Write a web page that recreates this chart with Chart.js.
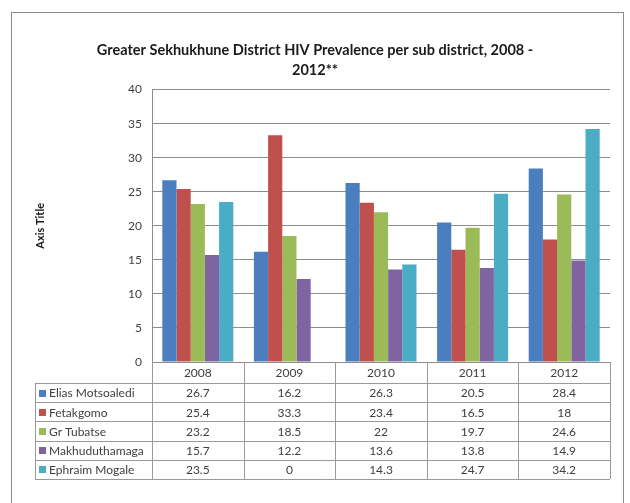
<!DOCTYPE html>
<html>
<head>
<meta charset="utf-8">
<script src="https://cdn.jsdelivr.net/npm/chart.js@4/dist/chart.umd.min.js"></script>
<style>
html, body { margin: 0; padding: 0; background: #fff; }
#wrap { position: relative; width: 630px; height: 503px; overflow: hidden; }
#frame { position: absolute; left: 11px; top: 12px; width: 611px; height: 520px; border: 1px solid #8c8c8c; }
#chart { position: absolute; left: 0; top: 0; }
</style>
</head>
<body>
<div id="wrap">
  <div id="frame"></div>
  <canvas id="chart" width="630" height="503"></canvas>
</div>
<script>
var years = ['2008', '2009', '2010', '2011', '2012'];
var seriesNames = ['Elias Motsoaledi', 'Fetakgomo', 'Gr Tubatse', 'Makhuduthamaga', 'Ephraim Mogale'];
var eliasMotsoaledi = [26.7, 16.2, 26.3, 20.5, 28.4];
var fetakgomo = [25.4, 33.3, 23.4, 16.5, 18];
var grTubatse = [23.2, 18.5, 22, 19.7, 24.6];
var makhuduthamaga = [15.7, 12.2, 13.6, 13.8, 14.9];
var ephraimMogale = [23.5, 0, 14.3, 24.7, 34.2];
var yTicks = [0, 5, 10, 15, 20, 25, 30, 35, 40];

var seriesValues = [eliasMotsoaledi, fetakgomo, grTubatse, makhuduthamaga, ephraimMogale];
var seriesColors = ['#4a7ebf', '#c0504d', '#9bbb59', '#8064a2', '#4bacc6'];
var fontFamily = 'Lato, "Open Sans", sans-serif';
var textColor = '#404040';

// data table under the plot, columns follow the x scale
var dataTablePlugin = {
    id: 'dataTable',
    afterDraw: function (chart) {
        var ctx = chart.ctx;
        var area = chart.chartArea;
        var xScale = chart.scales.x;
        var step = area.width / years.length;
        var headTop = area.bottom;
        var headH = 21;
        var rowH = 19.2;
        var legendLeft = 35;
        var tableBottom = headTop + headH + rowH * seriesNames.length;

        ctx.save();
        ctx.strokeStyle = '#9a9a9a';
        ctx.lineWidth = 1;
        ctx.beginPath();
        // horizontal lines
        for (var r = 0; r <= seriesNames.length; r++) {
            var y = Math.round(headTop + headH + r * rowH) + 0.5;
            ctx.moveTo(legendLeft, y);
            ctx.lineTo(area.right, y);
        }
        // vertical lines
        for (var c = 0; c <= years.length; c++) {
            var x = Math.round(area.left + c * step) + 0.5;
            ctx.moveTo(x, headTop);
            ctx.lineTo(x, tableBottom);
        }
        ctx.moveTo(legendLeft + 0.5, headTop + headH);
        ctx.lineTo(legendLeft + 0.5, tableBottom);
        ctx.stroke();

        ctx.font = '12px ' + fontFamily;
        ctx.fillStyle = textColor;
        ctx.textAlign = 'center';
        ctx.textBaseline = 'middle';
        years.forEach(function (yr, i) {
            ctx.fillText(yr, xScale.getPixelForValue(i), headTop + headH / 2 + 1);
        });
        seriesNames.forEach(function (name, s) {
            var cy = headTop + headH + s * rowH + rowH / 2 + 1;
            seriesValues[s].forEach(function (v, i) {
                ctx.textAlign = 'center';
                ctx.fillStyle = textColor;
                ctx.fillText(String(v), xScale.getPixelForValue(i), cy);
            });
            ctx.fillStyle = seriesColors[s];
            ctx.fillRect(legendLeft + 4, Math.round(cy - 4), 7, 7);
            ctx.fillStyle = textColor;
            ctx.textAlign = 'left';
            ctx.fillText(name, legendLeft + 14, cy);
        });
        ctx.restore();
    }
};

var chartCtx = document.getElementById('chart').getContext('2d');
var datasets = seriesNames.map(function (name, s) {
    return {
        label: name,
        data: seriesValues[s],
        backgroundColor: seriesColors[s],
        borderWidth: 0,
        categoryPercentage: 0.775,
        barPercentage: 1
    };
});

new Chart(chartCtx, {
    type: 'bar',
    data: { labels: years, datasets: datasets },
    options: {
        responsive: false,
        animation: false,
        layout: { padding: { left: 20, right: 20, top: 0, bottom: 141 } },
        plugins: {
            legend: { display: false },
            tooltip: { enabled: false },
            title: {
                display: true,
                text: ['Greater Sekhukhune District HIV Prevalence per sub district, 2008 -', '2012**'],
                color: '#1a1a1a',
                font: { family: fontFamily, size: 14.5, weight: 'bold', lineHeight: 1.4 },
                padding: { top: 40, bottom: 9 }
            }
        },
        scales: {
            x: {
                display: false
            },
            y: {
                min: 0,
                max: 40,
                afterBuildTicks: function (scale) {
                    scale.ticks = yTicks.map(function (v) { return { value: v }; });
                },
                afterFit: function (scale) { scale.width = 132; },
                grid: { color: '#8c8c8c', drawTicks: false },
                border: { color: '#8c8c8c' },
                ticks: { color: textColor, padding: 10, font: { family: fontFamily, size: 12 } },
                title: {
                    display: true,
                    text: 'Axis Title',
                    color: '#1a1a1a',
                    padding: { top: 14, bottom: 0 },
                    font: { family: fontFamily, size: 11, weight: 'bold' }
                }
            }
        }
    },
    plugins: [dataTablePlugin]
});
</script>
</body>
</html>
